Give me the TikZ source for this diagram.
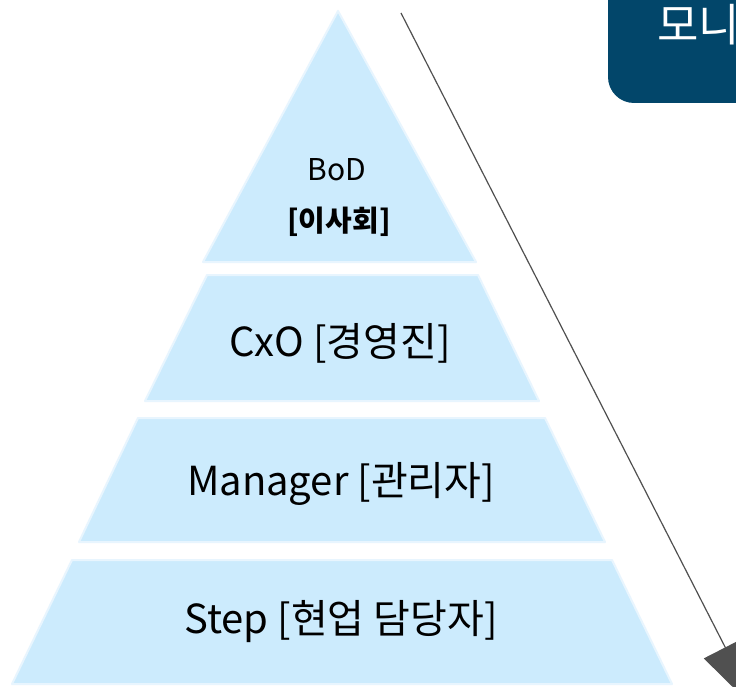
\documentclass[tikz,border=0pt]{standalone}
\usepackage{fontspec}
\setmainfont{Noto Sans CJK KR}
\newfontfamily\krfont{Noto Sans CJK KR}
\usetikzlibrary{arrows.meta}
\definecolor{layerblue}{RGB}{204,235,253}
\definecolor{layeredge}{RGB}{232,245,254}
\definecolor{boxblue}{RGB}{2,70,106}
\definecolor{arrowgray}{RGB}{80,80,80}
\tikzset{
  layer/.style={fill=layerblue, draw=layeredge, line width=2pt, line join=round},
  lbl/.style={font=\krfont\fontsize{40}{44}\selectfont, text=black, inner sep=0pt},
}
\begin{document}
\begin{tikzpicture}[x=1pt,y=-1pt]
\useasboundingbox (0,0) rectangle (736,687);
\clip (0,0) rectangle (736,687);
\fill[white] (0,0) rectangle (736,687);
% top box
\fill[boxblue, rounded corners=26pt] (608,-60) rectangle (820,103);
\node[anchor=base west, inner sep=0pt, text=white, font=\krfont\fontsize{45}{48}\selectfont] (mon) at (657,42) {모니};
% pyramid layers
\path[layer] (338,11) -- (476,262) -- (203,262) -- cycle;
\path[layer] (207,275) -- (478,275) -- (539,401) -- (145,401) -- cycle;
\path[layer] (138,418) -- (545,418) -- (605,542) -- (79,542) -- cycle;
\path[layer] (72,560) -- (612,560) -- (672,684) -- (12,684) -- cycle;
% labels
\node[lbl, font=\krfont\fontsize{30}{34}\selectfont] (bod) at (337,170) {BoD};
\node[lbl, font=\krfont\bfseries\fontsize{29}{32}\selectfont] (bodk) at (339,222) {[이사회]};
\node[lbl] (cxo) at (340,343) {CxO [경영진]};
\node[lbl] (mgr) at (341,484) {Manager [관리자]};
\node[lbl] (stp) at (341,622) {Step [현업 담당자]};
% arrow
\coordinate (as) at (401,13);
\coordinate (ae) at (758.5,712.4);
\draw[arrowgray, line width=1.2pt, -{Triangle[length=73pt,width=48pt]}] (as) -- (ae);
\end{tikzpicture}
\end{document}
